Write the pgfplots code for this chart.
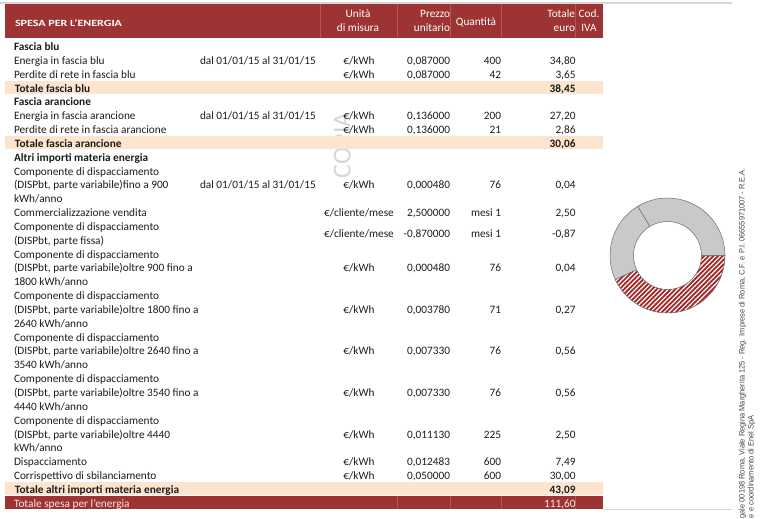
\documentclass[border=0pt]{standalone}
\usepackage{pgfplots}
\pgfplotsset{compat=1.18}
\usepackage{pgfplotstable}
\usepackage{fontspec}
\setmainfont{Carlito}
\newfontfamily\notefont{Liberation Sans}
\usetikzlibrary{patterns.meta}
\definecolor{hdr}{RGB}{157,51,50}
\definecolor{hdrdiv}{RGB}{178,84,82}
\definecolor{peach}{RGB}{252,228,207}
\definecolor{txt}{RGB}{28,28,28}
\definecolor{lgray}{RGB}{214,214,214}
\definecolor{wm}{RGB}{214,214,214}
\definecolor{dgray}{RGB}{200,201,203}
\definecolor{edge}{RGB}{110,110,110}
\definecolor{dred}{RGB}{158,42,42}
\definecolor{note}{RGB}{70,70,70}
\definecolor{pinkw}{RGB}{248,232,232}
\newcommand{\fs}{\fontsize{11.3}{13.84}\selectfont}
% donut shares (read from the ring)
\pgfplotstableread{
label value
blu 33.7
arancione 23.2
altri 43.1
}\donutdata
\newcommand{\Y}[1]{{50.5+13.84*(#1)}}
\newcommand{\lt}[3][]{\node[anchor=base west,#1] at (14,\Y{#2}) {#3};}
\newcommand{\rowv}[6]{%
  \node[anchor=base west] at (200,\Y{#1}) {#2};
  \node[anchor=base] at (359,\Y{#1}) {#3};
  \node[anchor=base east] at (450,\Y{#1}) {#4};
  \node[anchor=base east] at (501,\Y{#1}) {#5};
  \node[anchor=base east] at (575.5,\Y{#1}) {#6};}
\newcommand{\band}[2]{\fill[#2] (4.5,{50.5+13.84*(#1)-11.4}) rectangle (603,{50.5+13.84*(#1)+2.1});}
\begin{document}
\begin{tikzpicture}[x=1pt,y=-1pt,every node/.style={inner sep=0pt,outer sep=0pt,font=\fs,text=txt}]
\pgfplotstablegetelem{0}{value}\of\donutdata \let\va\pgfplotsretval
\pgfplotstablegetelem{1}{value}\of\donutdata \let\vb\pgfplotsretval
\pgfplotstablegetelem{2}{value}\of\donutdata \let\vc\pgfplotsretval
\pgfmathsetmacro\tot{\va+\vb+\vc}
\pgfmathsetmacro\fa{\va/\tot}
\pgfmathsetmacro\fb{\vb/\tot}
\pgfmathsetmacro\angA{360*\fa}
\pgfmathsetmacro\angB{360*(\fa+\fb)}
\coordinate (dc) at (667.5,255.5);
% watermark
\node[rotate=90,anchor=base west,text=wm,font=\fontsize{26}{26}\selectfont] at (350.5,178) {COPIA};
% top and bottom rules
\draw[lgray,line width=1.3pt] (0,3) -- (732,3);
\draw[lgray,line width=1.3pt] (603,509.6) -- (732,509.6);
% header
\fill[hdr] (4.5,3.6) rectangle (603,37.6);
\foreach \x in {320,397,450.5,501.7,575.3} \draw[hdrdiv,line width=0.6pt] (\x,3.6) -- (\x,37.6);
\node[anchor=base west,text=white,font=\fs\bfseries] at (15,26.3) {\resizebox{107pt}{6.9pt}{SPESA PER L'ENERGIA}};
\node[anchor=base,text=white] at (358,18) {Unità};
\node[anchor=base,text=white] at (358,31.5) {di misura};
\node[anchor=base east,text=white] at (450,18) {Prezzo};
\node[anchor=base east,text=white] at (450,31.5) {unitario};
\node[anchor=base,text=white] at (476,26) {Quantità};
\node[anchor=base east,text=white] at (575,18) {Totale};
\node[anchor=base east,text=white] at (575,31.5) {euro};
\node[anchor=base,text=white] at (589,18) {Cod.};
\node[anchor=base,text=white] at (589,31.5) {IVA};
% bands
\band{3}{peach}\band{7}{peach}\band{32}{peach}\band{33}{hdr}
\foreach \x in {397,450.5,501.7,575.3} \draw[hdrdiv,line width=0.6pt] (\x,{50.5+13.84*33-11.4}) -- (\x,{50.5+13.84*33+2.1});
% left column
\lt[font=\fs\bfseries]{0}{Fascia blu}
\lt{1}{Energia in fascia blu}
\lt{2}{Perdite di rete in fascia blu}
\node[anchor=base west,font=\fs\bfseries] at (15,\Y{3}) {Totale fascia blu};
\lt[font=\fs\bfseries]{4}{Fascia arancione}
\lt{5}{Energia in fascia arancione}
\lt{6}{Perdite di rete in fascia arancione}
\node[anchor=base west,font=\fs\bfseries] at (15,\Y{7}) {Totale fascia arancione};
\lt[font=\fs\bfseries]{8}{Altri importi materia energia}
\lt{9}{Componente di dispacciamento}
\lt{10}{(DISPbt, parte variabile)fino a 900}
\lt{11}{kWh/anno}
\lt{12}{Commercializzazione vendita}
\lt{13}{Componente di dispacciamento}
\lt{14}{(DISPbt, parte fissa)}
\lt{15}{Componente di dispacciamento}
\lt{16}{(DISPbt, parte variabile)oltre 900 fino a}
\lt{17}{1800 kWh/anno}
\lt{18}{Componente di dispacciamento}
\lt{19}{(DISPbt, parte variabile)oltre 1800 fino a}
\lt{20}{2640 kWh/anno}
\lt{21}{Componente di dispacciamento}
\lt{22}{(DISPbt, parte variabile)oltre 2640 fino a}
\lt{23}{3540 kWh/anno}
\lt{24}{Componente di dispacciamento}
\lt{25}{(DISPbt, parte variabile)oltre 3540 fino a}
\lt{26}{4440 kWh/anno}
\lt{27}{Componente di dispacciamento}
\lt{28}{(DISPbt, parte variabile)oltre 4440}
\lt{29}{kWh/anno}
\lt{30}{Dispacciamento}
\lt{31}{Corrispettivo di sbilanciamento}
\node[anchor=base west,font=\fs\bfseries] at (15,\Y{32}) {Totale altri importi materia energia};
\node[anchor=base west,text=pinkw] at (14,\Y{33}) {Totale spesa per l'energia};
% values
\rowv{1}{dal 01/01/15 al 31/01/15}{€/kWh}{0,087000}{400}{34,80}
\rowv{2}{}{€/kWh}{0,087000}{42}{3,65}
\node[anchor=base east,font=\fs\bfseries] at (575.5,\Y{3}) {38,45};
\rowv{5}{dal 01/01/15 al 31/01/15}{€/kWh}{0,136000}{200}{27,20}
\rowv{6}{}{€/kWh}{0,136000}{21}{2,86}
\node[anchor=base east,font=\fs\bfseries] at (575.5,\Y{7}) {30,06};
\rowv{10}{dal 01/01/15 al 31/01/15}{€/kWh}{0,000480}{76}{0,04}
\rowv{12}{}{€/cliente/mese}{2,500000}{mesi 1}{2,50}
\rowv{13.5}{}{€/cliente/mese}{-0,870000}{mesi 1}{-0,87}
\rowv{16}{}{€/kWh}{0,000480}{76}{0,04}
\rowv{19}{}{€/kWh}{0,003780}{71}{0,27}
\rowv{22}{}{€/kWh}{0,007330}{76}{0,56}
\rowv{25}{}{€/kWh}{0,007330}{76}{0,56}
\rowv{28}{}{€/kWh}{0,011130}{225}{2,50}
\rowv{30}{}{€/kWh}{0,012483}{600}{7,49}
\rowv{31}{}{€/kWh}{0,050000}{600}{30,00}
\node[anchor=base east,font=\fs\bfseries] at (575.5,\Y{32}) {43,09};
\node[anchor=base east,text=pinkw] at (575.5,\Y{33}) {111,60};
% donut
\begin{axis}[at={(dc)},anchor=center,hide axis,scale only axis,
  width=115pt,height=115pt,xmin=-1,xmax=1,ymin=-1,ymax=1,clip=false]
\addplot[draw=none,mark=none,forget plot] coordinates {(0,0)};
\path[fill=dgray,draw=edge,line width=0.5pt] (axis cs:0,0) ++(0:57.5pt) arc[start angle=0,end angle=\angA,radius=57.5pt] -- ++(\angA:-23.5pt) arc[start angle=\angA,end angle=0,radius=34pt] -- cycle;
\path[fill=dgray,draw=edge,line width=0.5pt] (axis cs:0,0) ++(\angA:57.5pt) arc[start angle=\angA,end angle=\angB,radius=57.5pt] -- ++(\angB:-23.5pt) arc[start angle=\angB,end angle=\angA,radius=34pt] -- cycle;
\path[preaction={fill=dred},pattern={Lines[angle=45,distance=3.3pt,line width=1.2pt]},pattern color=white,draw=edge,line width=0.5pt] (axis cs:0,0) ++(\angB:57.5pt) arc[start angle=\angB,end angle=360,radius=57.5pt] -- ++(0:-23.5pt) arc[start angle=360,end angle=\angB,radius=34pt] -- cycle;
\end{axis}
% side note
\node[rotate=90,anchor=base east,text=note,font=\notefont\fontsize{8}{8}\selectfont] at (744.5,168) {\scalebox{0.93}[1]{gale 00198 Roma, Viale Regina Margherita 125 - Reg. Imprese di Roma, C.F. e P.I. 06655971007 - R.E.A.}};
\node[rotate=90,anchor=base west,text=note,font=\notefont\fontsize{8}{8}\selectfont] at (753.5,518) {\scalebox{0.93}[1]{e e coordinamento di Enel SpA}};
\pgfresetboundingbox
\useasboundingbox (0,0) rectangle (761,519);
\end{tikzpicture}
\end{document}
